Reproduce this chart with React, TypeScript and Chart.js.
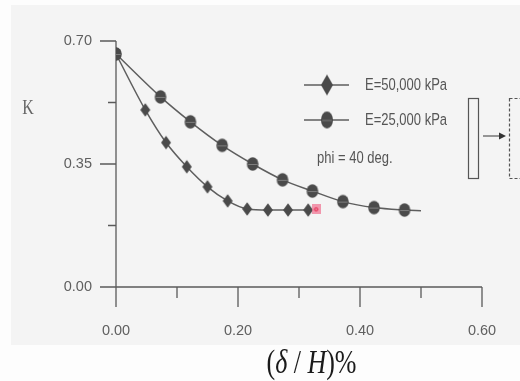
import React, { useEffect, useRef } from 'react';
import { Chart, registerables } from 'chart.js';

Chart.register(...registerables);

// ---- data ----
const seriesLabels = ['E=50,000 kPa', 'E=25,000 kPa'];
const noteText = 'phi = 40 deg.';
const yTitle = 'K';
// x-axis title pieces: [text, italic]
const xTitleParts: [string, boolean][] = [['(', false], ['δ', true], [' / ', false], ['H', true], [')%', false]];

const deltaStiff = [0, 0.048, 0.082, 0.116, 0.15, 0.183, 0.215, 0.249, 0.282, 0.315];
const kStiff = [0.663, 0.504, 0.411, 0.342, 0.285, 0.245, 0.222, 0.219, 0.219, 0.219];

const deltaSoft = [0, 0.073, 0.122, 0.174, 0.224, 0.273, 0.322, 0.372, 0.423, 0.473, 0.5];
const kSoft = [0.663, 0.541, 0.47, 0.403, 0.35, 0.305, 0.273, 0.243, 0.226, 0.219, 0.217];
const softMarked = [true, true, true, true, true, true, true, true, true, true, false];

const highlightX = [0.328];
const highlightY = [0.221];

const xMajorTicks = [0, 0.2, 0.4, 0.6];
const xMinorTicks = [0.1, 0.3, 0.5];
const yMajorTicks = [0, 0.35, 0.7];
const yMinorTicks = [0.175, 0.525];

// ---- styles ----
const AXIS = '#5a5a5a';
const LINE = '#5e5e5e';
const MARK = '#4a4a4a';
const TEXT = '#5f5f5f';

function makeMarker(shape: 'ellipse' | 'diamond' | 'pink', rx: number, ry: number): HTMLCanvasElement {
  const c = document.createElement('canvas');
  c.width = Math.ceil(rx * 2 + 2);
  c.height = Math.ceil(ry * 2 + 2);
  const ctx = c.getContext('2d')!;
  const cx = c.width / 2;
  const cy = c.height / 2;
  if (shape === 'ellipse') {
    ctx.fillStyle = MARK;
    ctx.beginPath();
    ctx.ellipse(cx, cy, rx, ry, 0, 0, Math.PI * 2);
    ctx.fill();
    ctx.strokeStyle = 'rgba(170,170,170,0.55)';
    ctx.lineWidth = 1;
    ctx.beginPath();
    ctx.moveTo(cx - rx * 0.8, cy + 0.5);
    ctx.lineTo(cx + rx * 0.8, cy + 0.5);
    ctx.stroke();
  } else if (shape === 'diamond') {
    ctx.fillStyle = MARK;
    ctx.beginPath();
    ctx.moveTo(cx, cy - ry);
    ctx.lineTo(cx + rx, cy);
    ctx.lineTo(cx, cy + ry);
    ctx.lineTo(cx - rx, cy);
    ctx.closePath();
    ctx.fill();
  } else {
    ctx.fillStyle = 'rgba(240,120,150,0.75)';
    ctx.fillRect(0, 0, c.width, c.height);
    ctx.strokeStyle = '#e0103a';
    ctx.lineWidth = 1;
    ctx.beginPath();
    ctx.arc(cx, cy, 1.6, 0, Math.PI * 2);
    ctx.stroke();
  }
  return c;
}

function zeroPadding(scale: any) {
  scale.paddingLeft = 0;
  scale.paddingRight = 0;
  scale.paddingTop = 0;
  scale.paddingBottom = 0;
}

export default function App() {
  const ref = useRef<HTMLCanvasElement | null>(null);

  useEffect(() => {
    const canvas = ref.current;
    if (!canvas) return;

    const circleMarker = makeMarker('ellipse', 5.8, 6.8);
    const diamondMarker = makeMarker('diamond', 5, 6.8);
    const pinkMarker = makeMarker('pink', 3.2, 3.6);
    const legendCircle = makeMarker('ellipse', 6, 8.5);
    const legendDiamond = makeMarker('diamond', 6, 10.5);

    const decorPlugin = {
      id: 'decor',
      beforeDraw(chart: any) {
        const ctx = chart.ctx;
        ctx.save();
        ctx.fillStyle = '#fdfdfd';
        ctx.fillRect(0, 0, chart.width, chart.height);
        ctx.fillStyle = '#f4f4f4';
        ctx.fillRect(11, 5, chart.width - 11, 340);
        ctx.restore();
      },
      beforeDatasetsDraw(chart: any) {
        const ctx = chart.ctx;
        const xs = chart.scales.x;
        const ys = chart.scales.y;
        const x0 = xs.getPixelForValue(0);
        const y0 = ys.getPixelForValue(0);
        const yTop = ys.getPixelForValue(0.7);
        const xEnd = xs.getPixelForValue(0.6);
        const major = 20;
        const minor = 11;
        ctx.save();
        ctx.strokeStyle = AXIS;
        ctx.lineWidth = 1.3;
        ctx.beginPath();
        // axis lines
        ctx.moveTo(x0, yTop);
        ctx.lineTo(x0, y0 + major);
        ctx.moveTo(x0 - 16, y0);
        ctx.lineTo(xEnd, y0);
        // y ticks
        yMajorTicks.forEach((v) => {
          const p = ys.getPixelForValue(v);
          ctx.moveTo(x0 - 16, p);
          ctx.lineTo(x0, p);
        });
        yMinorTicks.forEach((v) => {
          const p = ys.getPixelForValue(v);
          ctx.moveTo(x0 - 8, p);
          ctx.lineTo(x0, p);
        });
        // x ticks
        xMajorTicks.forEach((v) => {
          const p = xs.getPixelForValue(v);
          ctx.moveTo(p, y0);
          ctx.lineTo(p, y0 + major);
        });
        xMinorTicks.forEach((v) => {
          const p = xs.getPixelForValue(v);
          ctx.moveTo(p, y0);
          ctx.lineTo(p, y0 + minor);
        });
        ctx.stroke();
        ctx.restore();
      },
      afterDraw(chart: any) {
        const ctx = chart.ctx;
        ctx.save();
        ctx.textBaseline = 'middle';

        // y title "K"
        ctx.fillStyle = '#666';
        ctx.font = '16px "Liberation Serif", "Times New Roman", serif';
        ctx.textAlign = 'center';
        ctx.save();
        ctx.translate(28, 109);
        ctx.scale(1, 1.3);
        ctx.fillText(yTitle, 0, 0);
        ctx.restore();

        // legend
        const legendY = [85, 120];
        const markers = [legendDiamond, legendCircle];
        legendY.forEach((ly, i) => {
          ctx.strokeStyle = LINE;
          ctx.lineWidth = 1.4;
          ctx.beginPath();
          ctx.moveTo(304, ly);
          ctx.lineTo(349, ly);
          ctx.stroke();
          const m = markers[i];
          ctx.drawImage(m, 327 - m.width / 2, ly - m.height / 2);
          ctx.fillStyle = '#555';
          ctx.font = '13px "Liberation Sans", Arial, sans-serif';
          ctx.textAlign = 'left';
          ctx.save();
          ctx.translate(365, ly + 0.5);
          ctx.scale(1, 1.3);
          ctx.fillText(seriesLabels[i], 0, 0);
          ctx.restore();
        });
        ctx.save();
        ctx.translate(317, 158);
        ctx.scale(1, 1.3);
        ctx.fillText(noteText, 0, 0);
        ctx.restore();

        // wall sketch
        ctx.strokeStyle = '#555';
        ctx.lineWidth = 1.2;
        ctx.strokeRect(468.5, 98.5, 10, 80);
        ctx.beginPath();
        ctx.moveTo(483, 136);
        ctx.lineTo(501, 136);
        ctx.stroke();
        ctx.fillStyle = '#333';
        ctx.beginPath();
        ctx.moveTo(506, 136);
        ctx.lineTo(499, 132.5);
        ctx.lineTo(499, 139.5);
        ctx.closePath();
        ctx.fill();
        ctx.setLineDash([3, 2]);
        ctx.strokeRect(509.5, 98.5, 14, 80);
        ctx.setLineDash([]);

        // x title "(δ / H)%"
        ctx.fillStyle = '#1a1a1a';
        const fontN = '26px "Liberation Serif", "Times New Roman", serif';
        const fontI = 'italic 26px "Liberation Serif", "Times New Roman", serif';
        let total = 0;
        const widths = xTitleParts.map(([t, it]) => {
          ctx.font = it ? fontI : fontN;
          const w = ctx.measureText(t).width;
          total += w;
          return w;
        });
        ctx.save();
        ctx.translate(311.5 - total / 2, 364);
        ctx.scale(1, 1.28);
        ctx.textAlign = 'left';
        let xx = 0;
        xTitleParts.forEach(([t, it], i) => {
          ctx.font = it ? fontI : fontN;
          ctx.fillText(t, xx, 0);
          xx += widths[i];
        });
        ctx.restore();

        ctx.restore();
      },
    };

    const chart = new Chart(canvas, {
      type: 'line',
      data: {
        datasets: [
          {
            label: 'highlight',
            data: highlightX.map((x, i) => ({ x, y: highlightY[i] })),
            showLine: false,
            pointStyle: pinkMarker as any,
            pointRadius: 4,
            order: 0,
          },
          {
            label: seriesLabels[1],
            data: deltaSoft.map((x, i) => ({ x, y: kSoft[i] })),
            borderColor: LINE,
            borderWidth: 1.5,
            cubicInterpolationMode: 'monotone',
            pointStyle: circleMarker as any,
            pointRadius: softMarked.map((m) => (m ? 6 : 0)),
            order: 1,
          },
          {
            label: seriesLabels[0],
            data: deltaStiff.map((x, i) => ({ x, y: kStiff[i] })),
            borderColor: LINE,
            borderWidth: 1.5,
            cubicInterpolationMode: 'monotone',
            pointStyle: diamondMarker as any,
            pointRadius: 6,
            order: 2,
          },
        ],
      },
      options: {
        responsive: false,
        animation: false,
        layout: { padding: { left: 0, top: 41, right: 38, bottom: 0 } },
        plugins: {
          legend: { display: false },
          tooltip: { enabled: false },
        },
        scales: {
          x: {
            type: 'linear',
            min: 0,
            max: 0.6,
            grid: { display: false, drawTicks: false },
            border: { display: false },
            afterBuildTicks: (scale: any) => {
              scale.ticks = xMajorTicks.map((v) => ({ value: v }));
            },
            afterFit: (scale: any) => {
              scale.height = 94;
              zeroPadding(scale);
            },
            ticks: {
              padding: 35,
              color: TEXT,
              font: { family: '"Liberation Sans", Arial, sans-serif', size: 14.5 },
              maxRotation: 0,
              callback: (v: any) => Number(v).toFixed(2),
            },
          },
          y: {
            type: 'linear',
            min: 0,
            max: 0.7,
            grid: { display: false, drawTicks: false },
            border: { display: false },
            afterBuildTicks: (scale: any) => {
              scale.ticks = yMajorTicks.map((v) => ({ value: v }));
            },
            afterFit: (scale: any) => {
              scale.width = 116;
              zeroPadding(scale);
            },
            ticks: {
              padding: 24,
              color: TEXT,
              font: { family: '"Liberation Sans", Arial, sans-serif', size: 14.5 },
              callback: (v: any) => Number(v).toFixed(2),
            },
          },
        },
      },
      plugins: [decorPlugin],
    });

    return () => chart.destroy();
  }, []);

  return (
    <div style={{ position: 'absolute', left: 0, top: 0, width: 520, height: 381 }}>
      <canvas ref={ref} width={520} height={381} style={{ width: 520, height: 381, display: 'block' }} />
    </div>
  );
}
